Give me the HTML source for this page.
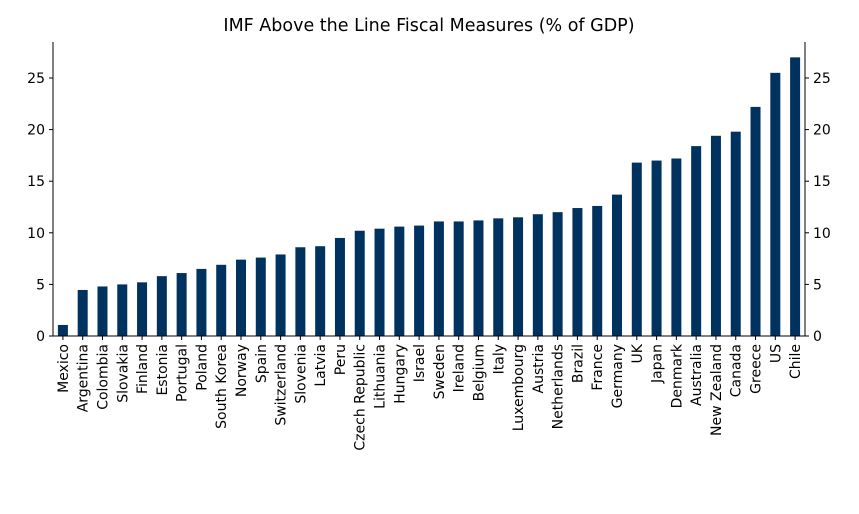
<!DOCTYPE html>
<html><head><meta charset="utf-8"><style>
html,body{margin:0;padding:0;background:#fff;}
svg text{font-family:"DejaVu Sans","Liberation Sans",sans-serif;fill:#000;}
</style></head><body>
<svg id="chart" width="859" height="509" viewBox="0 0 859 509" xmlns="http://www.w3.org/2000/svg">
<text x="429" y="31" font-size="17.5" text-anchor="middle">IMF Above the Line Fiscal Measures (% of GDP)</text>
<g id="bars"></g>
<g id="axes"></g>
</svg>
<script>
const categories = ["Mexico","Argentina","Colombia","Slovakia","Finland","Estonia","Portugal","Poland","South Korea","Norway","Spain","Switzerland","Slovenia","Latvia","Peru","Czech Republic","Lithuania","Hungary","Israel","Sweden","Ireland","Belgium","Italy","Luxembourg","Austria","Netherlands","Brazil","France","Germany","UK","Japan","Denmark","Australia","New Zealand","Canada","Greece","US","Chile"];
const values = [1.07,4.46,4.8,5.0,5.2,5.8,6.1,6.5,6.9,7.4,7.6,7.9,8.6,8.7,9.5,10.2,10.4,10.6,10.7,11.1,11.1,11.2,11.4,11.5,11.8,12.0,12.4,12.6,13.7,16.8,17.0,17.2,18.4,19.4,19.8,22.2,25.5,27.0];
const yTicks = [0,5,10,15,20,25];

const NS="http://www.w3.org/2000/svg";
const left=53,right=805,y0=336,yTop=42;
const pxPerUnit=(336-78)/25;
const y=v=>y0-v*pxPerUnit;
const step=(right-left)/categories.length;
const x=i=>left+step*(i+0.5);
const barW=10;
function mk(t,a){const e=document.createElementNS(NS,t);for(const k in a)e.setAttribute(k,a[k]);return e;}
const bars=document.getElementById('bars'),axes=document.getElementById('axes');
values.forEach((v,i)=>{
  const r=mk('rect',{x:x(i)-barW/2,y:y(v),width:barW,height:y0-y(v),fill:'#00325f'});
  
  
  bars.appendChild(r);
  const tk=mk('line',{x1:x(i),x2:x(i),y1:y0,y2:y0+4,stroke:'#000','stroke-width':1});
  axes.appendChild(tk);
  const t=mk('text',{'font-size':14,'text-anchor':'end',transform:`translate(${x(i)+5},${y0+8}) rotate(-90)`});
  t.textContent=categories[i];
  
  
  axes.appendChild(t);
});
[[left,yTop,left,y0],[right,yTop,right,y0],[left,y0,right,y0]].forEach(c=>{
  axes.appendChild(mk('line',{x1:c[0],y1:c[1],x2:c[2],y2:c[3],stroke:'#000','stroke-width':1}));
});
yTicks.forEach(v=>{
  axes.appendChild(mk('line',{x1:left-4,x2:left,y1:y(v),y2:y(v),stroke:'#000'}));
  axes.appendChild(mk('line',{x1:right,x2:right+4,y1:y(v),y2:y(v),stroke:'#000'}));
  const l=mk('text',{x:left-8,y:y(v)+5,'font-size':14,'text-anchor':'end'});
  l.textContent=v;
  
  
  axes.appendChild(l);
  const r=mk('text',{x:right+8,y:y(v)+5,'font-size':14,'text-anchor':'start'});
  r.textContent=v;
  
  
  axes.appendChild(r);
});
</script>
</body></html>
